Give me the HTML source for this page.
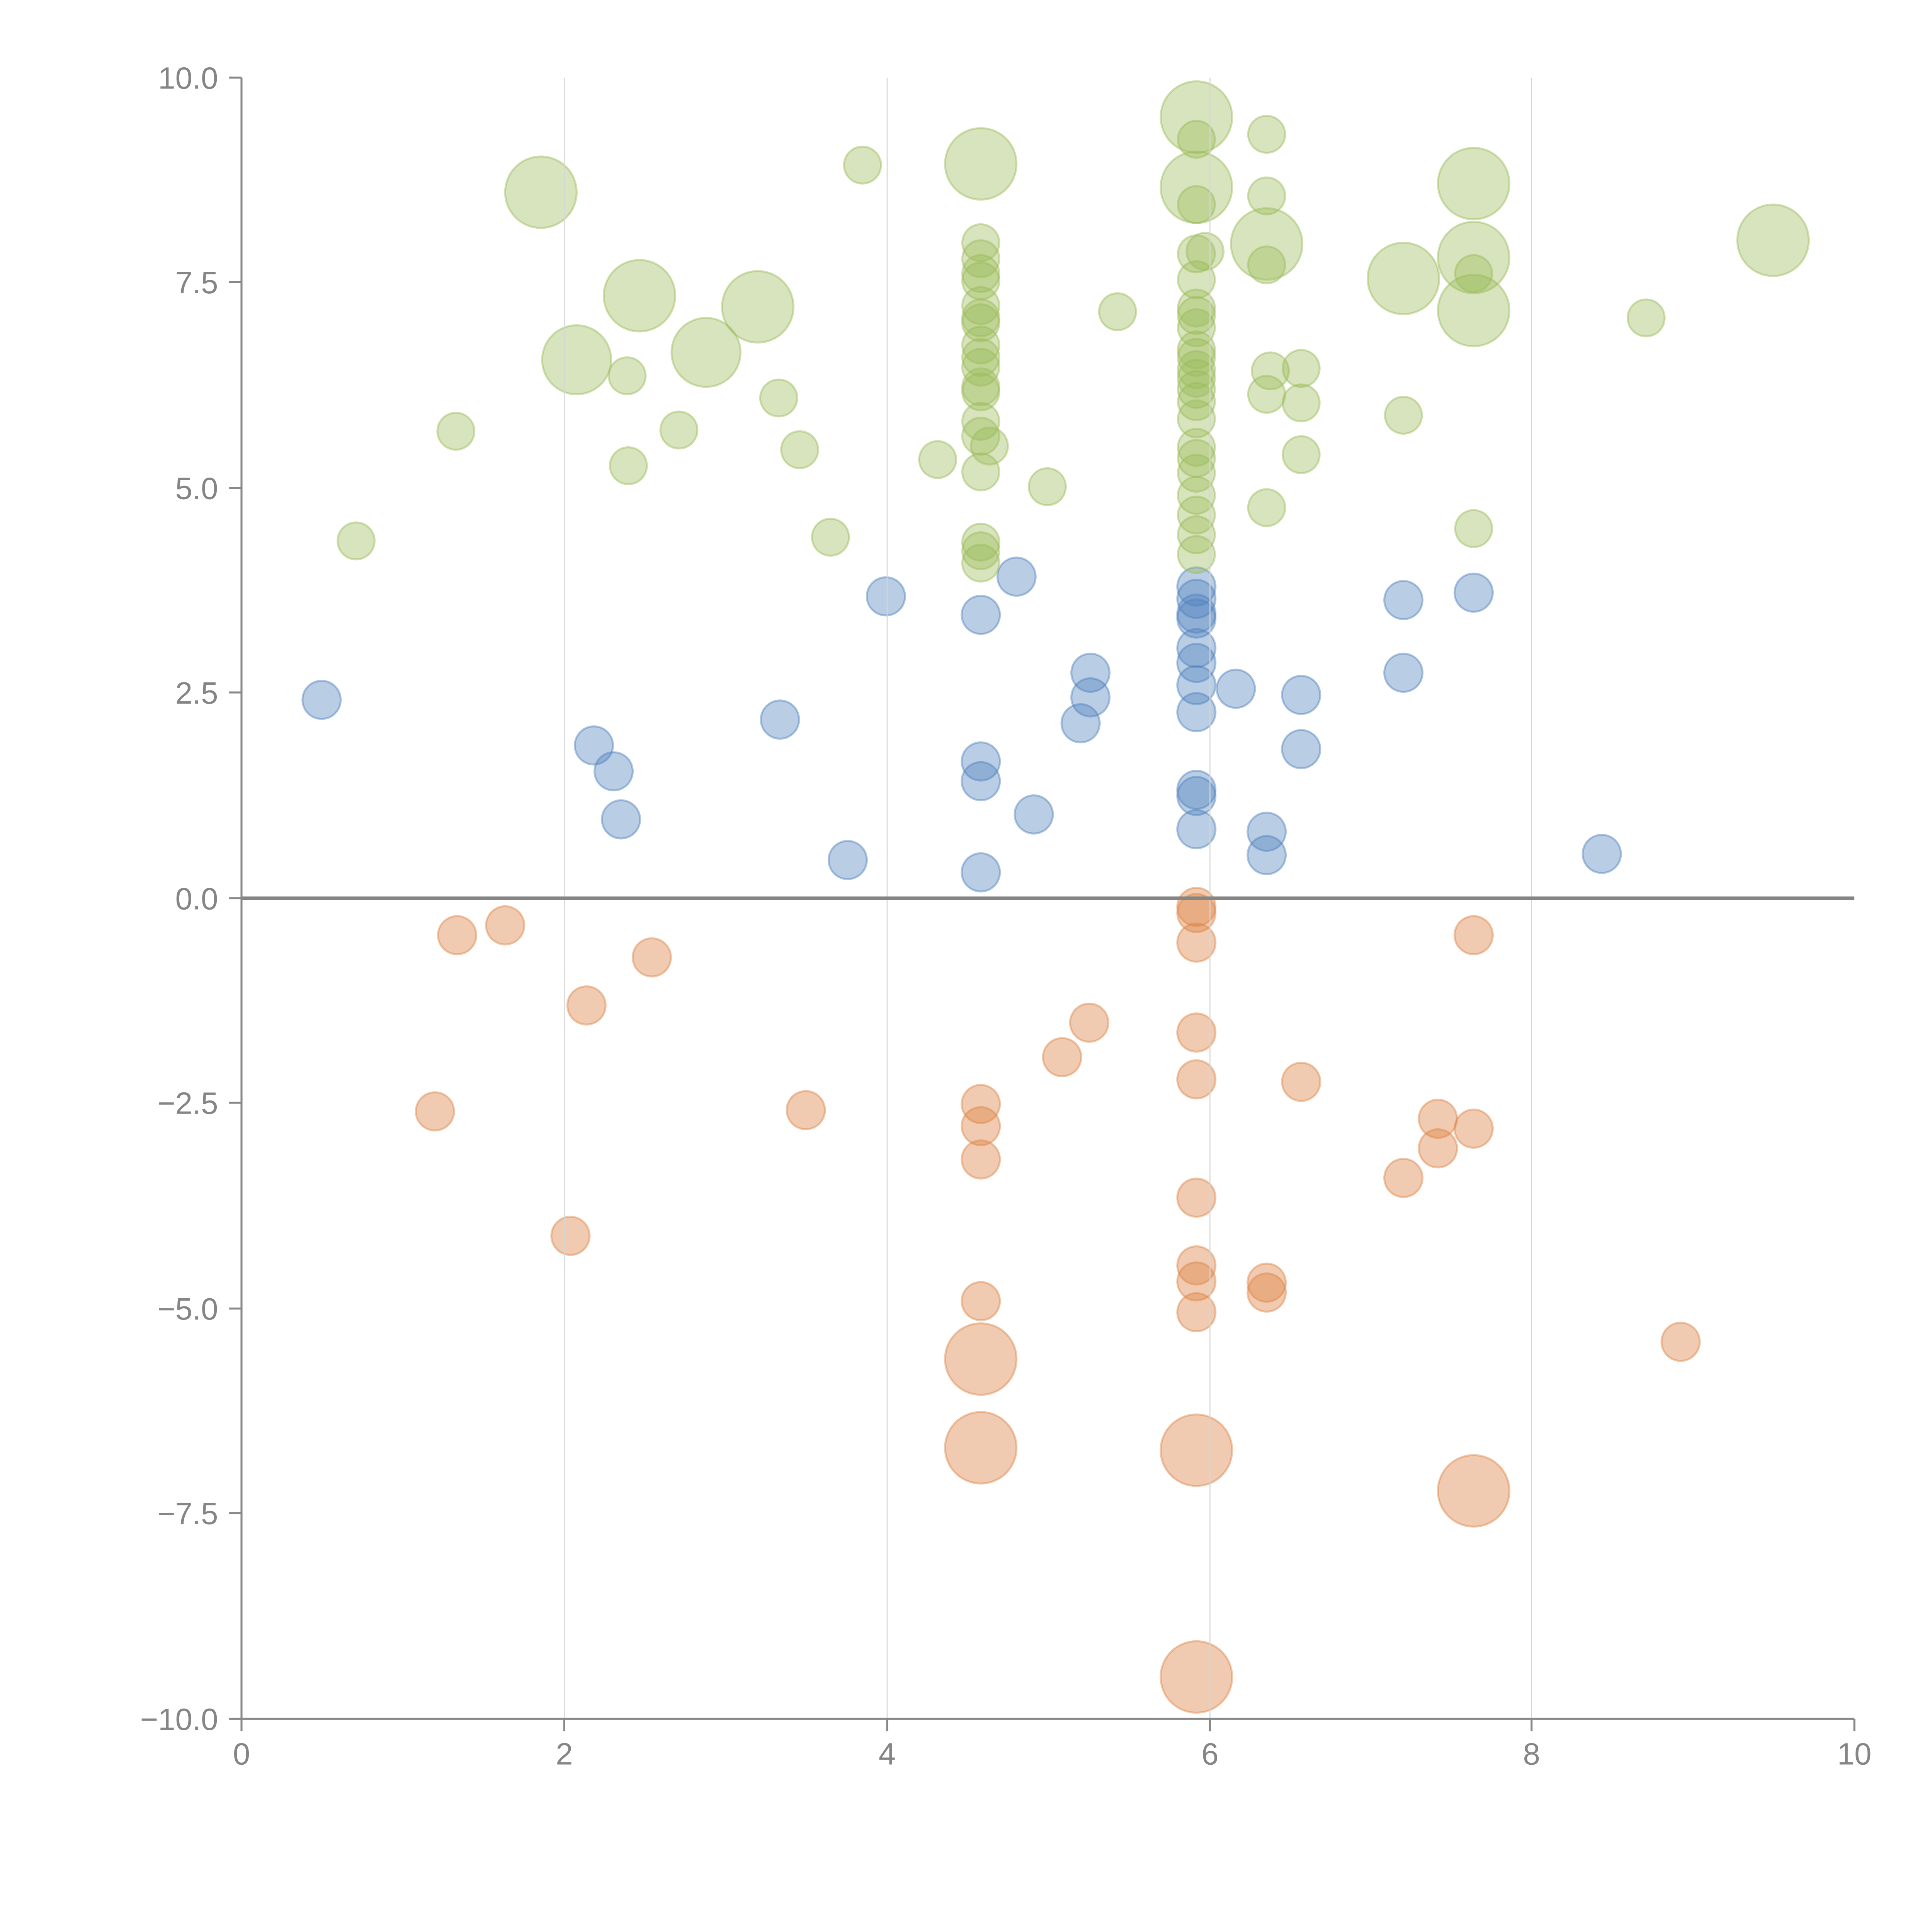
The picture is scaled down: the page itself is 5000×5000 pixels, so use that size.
<!DOCTYPE html>
<html><head><meta charset="utf-8"><style>
html,body{margin:0;padding:0;background:#fff;}
svg{display:block;}
</style></head><body>
<svg width="5000" height="5000" viewBox="0 0 1568 1568" xmlns="http://www.w3.org/2000/svg" font-family="Liberation Sans, Arial, sans-serif">
<rect width="1568" height="1568" fill="#fff"/>
<g fill="rgba(221,132,70,0.42)" stroke="rgba(221,132,70,0.45)" stroke-width="1.6">
<circle cx="371" cy="759" r="15.5"/><circle cx="410" cy="751" r="15.5"/><circle cx="476" cy="816" r="15.5"/><circle cx="529" cy="777" r="15.5"/><circle cx="353" cy="902" r="15.5"/><circle cx="463" cy="1003" r="15.5"/><circle cx="654" cy="901" r="15.5"/><circle cx="796" cy="896" r="15.5"/><circle cx="796" cy="914" r="15.5"/><circle cx="796" cy="941" r="15.5"/><circle cx="796" cy="1056" r="15.5"/><circle cx="796" cy="1103" r="29"/><circle cx="796" cy="1175" r="29"/><circle cx="862" cy="858" r="15.5"/><circle cx="884" cy="830" r="15.5"/><circle cx="971" cy="736" r="15.5"/><circle cx="971" cy="741" r="15.5"/><circle cx="971" cy="765" r="15.5"/><circle cx="971" cy="838" r="15.5"/><circle cx="971" cy="876" r="15.5"/><circle cx="971" cy="972" r="15.5"/><circle cx="971" cy="1027" r="15.5"/><circle cx="971" cy="1040" r="15.5"/><circle cx="971" cy="1065" r="15.5"/><circle cx="971" cy="1177" r="29"/><circle cx="971" cy="1361" r="29"/><circle cx="1028" cy="1041" r="15.5"/><circle cx="1028" cy="1049" r="15.5"/><circle cx="1056" cy="878" r="15.5"/><circle cx="1139" cy="956" r="15.5"/><circle cx="1167" cy="908" r="15.5"/><circle cx="1167" cy="932" r="15.5"/><circle cx="1196" cy="759" r="15.5"/><circle cx="1196" cy="916" r="15.5"/><circle cx="1196" cy="1210" r="29"/><circle cx="1364" cy="1089" r="15.5"/>
</g>
<g fill="rgba(79,129,189,0.4)" stroke="rgba(79,129,189,0.45)" stroke-width="1.6">
<circle cx="261" cy="568" r="15.5"/><circle cx="482" cy="605" r="15.5"/><circle cx="498" cy="626" r="15.5"/><circle cx="504" cy="665" r="15.5"/><circle cx="633" cy="584" r="15.5"/><circle cx="688" cy="698" r="15.5"/><circle cx="719" cy="484" r="15.5"/><circle cx="796" cy="499" r="15.5"/><circle cx="796" cy="618" r="15.5"/><circle cx="796" cy="634" r="15.5"/><circle cx="796" cy="708" r="15.5"/><circle cx="825" cy="468" r="15.5"/><circle cx="839" cy="661" r="15.5"/><circle cx="877" cy="587" r="15.5"/><circle cx="885" cy="546" r="15.5"/><circle cx="885" cy="566" r="15.5"/><circle cx="971" cy="476" r="15.5"/><circle cx="971" cy="486" r="15.5"/><circle cx="971" cy="498" r="15.5"/><circle cx="971" cy="502" r="15.5"/><circle cx="971" cy="526" r="15.5"/><circle cx="971" cy="538" r="15.5"/><circle cx="971" cy="556" r="15.5"/><circle cx="971" cy="578" r="15.5"/><circle cx="971" cy="641" r="15.5"/><circle cx="971" cy="646" r="15.5"/><circle cx="971" cy="673" r="15.5"/><circle cx="1003" cy="559" r="15.5"/><circle cx="1028" cy="675" r="15.5"/><circle cx="1028" cy="694" r="15.5"/><circle cx="1056" cy="564" r="15.5"/><circle cx="1056" cy="608" r="15.5"/><circle cx="1139" cy="487" r="15.5"/><circle cx="1139" cy="546" r="15.5"/><circle cx="1196" cy="481" r="15.5"/><circle cx="1300" cy="693" r="15.5"/>
</g>
<g fill="rgba(155,187,89,0.4)" stroke="rgba(155,187,89,0.45)" stroke-width="1.6">
<circle cx="289" cy="439" r="15"/><circle cx="370" cy="350" r="15"/><circle cx="439" cy="156" r="29"/><circle cx="468" cy="292" r="28"/><circle cx="509" cy="305" r="15"/><circle cx="519" cy="240" r="29"/><circle cx="510" cy="378" r="15"/><circle cx="551" cy="349" r="15"/><circle cx="573" cy="286" r="28"/><circle cx="615" cy="249" r="29"/><circle cx="632" cy="323" r="15"/><circle cx="649" cy="365" r="15"/><circle cx="674" cy="436" r="15"/><circle cx="700" cy="134" r="15"/><circle cx="761" cy="373" r="15"/><circle cx="796" cy="133" r="29"/><circle cx="796" cy="197" r="15"/><circle cx="796" cy="210" r="15"/><circle cx="796" cy="222" r="15"/><circle cx="796" cy="228" r="15"/><circle cx="796" cy="248" r="15"/><circle cx="796" cy="258" r="15"/><circle cx="796" cy="262" r="15"/><circle cx="796" cy="280" r="15"/><circle cx="796" cy="290" r="15"/><circle cx="796" cy="298" r="15"/><circle cx="796" cy="314" r="15"/><circle cx="796" cy="318" r="15"/><circle cx="796" cy="342" r="15"/><circle cx="796" cy="354" r="15"/><circle cx="803" cy="362" r="15"/><circle cx="796" cy="383" r="15"/><circle cx="796" cy="440" r="15"/><circle cx="796" cy="447" r="15"/><circle cx="796" cy="457" r="15"/><circle cx="850" cy="395" r="15"/><circle cx="907" cy="253" r="15"/><circle cx="971" cy="95" r="29"/><circle cx="971" cy="113" r="15"/><circle cx="971" cy="152" r="29"/><circle cx="971" cy="166" r="15"/><circle cx="971" cy="206" r="15"/><circle cx="978" cy="204" r="15"/><circle cx="971" cy="227" r="15"/><circle cx="971" cy="250" r="15"/><circle cx="971" cy="256" r="15"/><circle cx="971" cy="266" r="15"/><circle cx="971" cy="284" r="15"/><circle cx="971" cy="290" r="15"/><circle cx="971" cy="300" r="15"/><circle cx="971" cy="307" r="15"/><circle cx="971" cy="316" r="15"/><circle cx="971" cy="326" r="15"/><circle cx="971" cy="340" r="15"/><circle cx="971" cy="363" r="15"/><circle cx="971" cy="372" r="15"/><circle cx="971" cy="384" r="15"/><circle cx="971" cy="402" r="15"/><circle cx="971" cy="418" r="15"/><circle cx="971" cy="434" r="15"/><circle cx="971" cy="450" r="15"/><circle cx="1028" cy="109" r="15"/><circle cx="1028" cy="159" r="15"/><circle cx="1028" cy="198" r="29"/><circle cx="1028" cy="215" r="15"/><circle cx="1031" cy="301" r="15"/><circle cx="1028" cy="320" r="15"/><circle cx="1056" cy="299" r="15"/><circle cx="1056" cy="327" r="15"/><circle cx="1056" cy="369" r="15"/><circle cx="1028" cy="412" r="15"/><circle cx="1139" cy="226" r="29"/><circle cx="1139" cy="337" r="15"/><circle cx="1196" cy="149" r="29"/><circle cx="1196" cy="209" r="29"/><circle cx="1196" cy="222" r="15"/><circle cx="1196" cy="252" r="29"/><circle cx="1196" cy="429" r="15"/><circle cx="1336" cy="258" r="15"/><circle cx="1439" cy="195" r="29"/>
</g>
<g stroke="#d6d6d6" stroke-width="0.8">
<line x1="458" y1="63" x2="458" y2="1395"/>
<line x1="720" y1="63" x2="720" y2="1395"/>
<line x1="982" y1="63" x2="982" y2="1395"/>
<line x1="1243" y1="63" x2="1243" y2="1395"/>
</g>
<line x1="196" y1="729" x2="1505" y2="729" stroke="#858585" stroke-width="2.8"/>
<g stroke="#888" stroke-width="1.6" fill="none">
<line x1="196" y1="63" x2="196" y2="1395"/>
<line x1="196" y1="1395" x2="1505" y2="1395"/>
<line x1="186" y1="63" x2="196" y2="63"/>
<line x1="186" y1="229" x2="196" y2="229"/>
<line x1="186" y1="396" x2="196" y2="396"/>
<line x1="186" y1="562" x2="196" y2="562"/>
<line x1="186" y1="729" x2="196" y2="729"/>
<line x1="186" y1="895" x2="196" y2="895"/>
<line x1="186" y1="1062" x2="196" y2="1062"/>
<line x1="186" y1="1228" x2="196" y2="1228"/>
<line x1="186" y1="1395" x2="196" y2="1395"/>
<line x1="196" y1="1395" x2="196" y2="1405"/>
<line x1="458" y1="1395" x2="458" y2="1405"/>
<line x1="720" y1="1395" x2="720" y2="1405"/>
<line x1="982" y1="1395" x2="982" y2="1405"/>
<line x1="1243" y1="1395" x2="1243" y2="1405"/>
<line x1="1505" y1="1395" x2="1505" y2="1405"/>
</g>
<g fill="#858585" font-size="25" text-anchor="end">
<text x="177" y="72">10.0</text>
<text x="177" y="238">7.5</text>
<text x="177" y="405">5.0</text>
<text x="177" y="571">2.5</text>
<text x="177" y="738">0.0</text>
<text x="177" y="904">−2.5</text>
<text x="177" y="1071">−5.0</text>
<text x="177" y="1237">−7.5</text>
<text x="177" y="1404">−10.0</text>
</g>
<g fill="#858585" font-size="25" text-anchor="middle">
<text x="196" y="1432">0</text>
<text x="458" y="1432">2</text>
<text x="720" y="1432">4</text>
<text x="982" y="1432">6</text>
<text x="1243" y="1432">8</text>
<text x="1505" y="1432">10</text>
</g>
</svg>
</body></html>
